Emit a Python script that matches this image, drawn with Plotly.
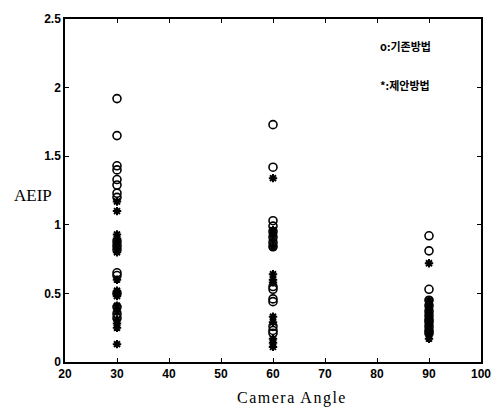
import plotly.graph_objects as go

angles = [30, 60, 90]

# 기존방법 (circles)
old_30 = [1.92, 1.65, 1.43, 1.40, 1.33, 1.29, 1.23, 1.20, 0.88, 0.85, 0.82, 0.65, 0.63, 0.50, 0.40, 0.35, 0.32]
old_60 = [1.73, 1.42, 1.03, 0.99, 0.95, 0.91, 0.87, 0.84, 0.55, 0.53, 0.46, 0.44, 0.26, 0.23, 0.21]
old_90 = [0.92, 0.81, 0.53, 0.45, 0.41, 0.37, 0.34, 0.31, 0.29, 0.26, 0.23, 0.21]

# 제안방법 (stars)
new_30 = [1.17, 1.10, 0.93, 0.90, 0.87, 0.84, 0.80, 0.60, 0.52, 0.50, 0.48, 0.41, 0.37, 0.31, 0.28, 0.25, 0.13]
new_60 = [1.34, 0.96, 0.93, 0.89, 0.84, 0.64, 0.60, 0.58, 0.33, 0.29, 0.17, 0.14, 0.11]
new_90 = [0.72, 0.45, 0.42, 0.39, 0.36, 0.33, 0.30, 0.27, 0.25, 0.22, 0.20, 0.17]

x_ticks = [20, 30, 40, 50, 60, 70, 80, 90, 100]
y_ticks = [0, 0.5, 1, 1.5, 2, 2.5]
y_ticklabels = ["0", "0.5", "1", "1.5", "2", "2.5"]

old_x = [angles[0]] * len(old_30) + [angles[1]] * len(old_60) + [angles[2]] * len(old_90)
old_y = old_30 + old_60 + old_90
new_x = [angles[0]] * len(new_30) + [angles[1]] * len(new_60) + [angles[2]] * len(new_90)
new_y = new_30 + new_60 + new_90

fig = go.Figure()
fig.add_trace(go.Scatter(
    x=old_x, y=old_y, mode="markers", name="기존방법",
    marker=dict(symbol="circle-open", size=8, color="black", line=dict(width=1.6, color="black")),
))
fig.add_trace(go.Scatter(
    x=new_x, y=new_y, mode="markers", name="제안방법",
    marker=dict(symbol="asterisk-open", size=7, color="black", line=dict(width=2, color="black")),
))

axis_common = dict(
    showline=True, linecolor="black", linewidth=1.5, mirror="ticks",
    ticks="inside", ticklen=4, tickwidth=1, tickcolor="black",
    showgrid=False, zeroline=False,
    tickfont=dict(family="Liberation Sans, Arial", size=12, color="black", weight="bold"),
)

fig.update_layout(
    width=503, height=408,
    margin=dict(l=65, r=15, t=15, b=46),
    paper_bgcolor="white", plot_bgcolor="white",
    showlegend=False,
    xaxis=dict(range=[20, 100], tickvals=x_ticks, **axis_common),
    yaxis=dict(range=[0, 2.5], tickvals=y_ticks, ticktext=y_ticklabels, **axis_common),
    annotations=[
        dict(text="AEIP", x=-0.078, y=1.21, xref="paper", yref="y", xanchor="center", yanchor="middle",
             showarrow=False, font=dict(family="Liberation Serif, Times New Roman", size=17, color="black")),
        dict(text="Camera Angle", x=0.545, y=-0.104, xref="paper", yref="paper", xanchor="center", yanchor="middle",
             showarrow=False, font=dict(family="Liberation Serif, Times New Roman", size=16, color="black")),
        dict(text="<b>o:기존방법</b>", x=0.752, y=2.305, xref="paper", yref="y", xanchor="left", yanchor="middle",
             showarrow=False, font=dict(family="Noto Sans CJK KR", size=11, color="black")),
        dict(text="<b>*:제안방법</b>", x=0.752, y=2.02, xref="paper", yref="y", xanchor="left", yanchor="middle",
             showarrow=False, font=dict(family="Noto Sans CJK KR", size=11, color="black")),
    ],
)

post = (
    "document.body.style.margin='0';"
    "var t=document.querySelector('.annotation[data-index=\"1\"] text');"
    "if(t){t.style.letterSpacing='1.5px';}"
)
fig.write_html("out.html", config={"displayModeBar": False}, post_script=post)
